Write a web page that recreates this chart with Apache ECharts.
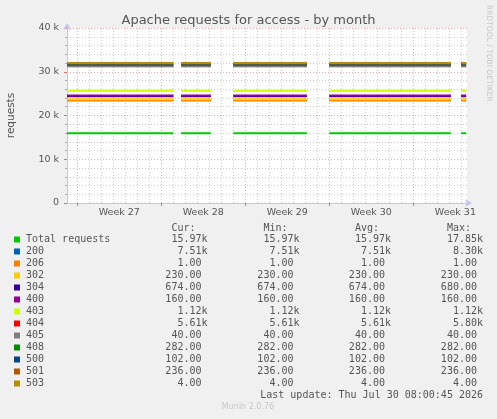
<!DOCTYPE html>
<html>
<head>
<meta charset="utf-8">
<title>Apache requests for access - by month</title>
<script src="https://cdn.jsdelivr.net/npm/echarts@6/dist/echarts.min.js"></script>
<style>
  html, body { margin: 0; padding: 0; background: #f0f0f0; }
  #chart { width: 497px; height: 419px; }
</style>
</head>
<body>
<div id="chart"></div>
<script>
// x is measured in days from Monday 00:00 of week 27
const xMin = -0.86;
const xMax = 32.47;
const segments = [[-0.86, 8.0], [8.64, 11.12], [13.0, 19.12], [21.0, 31.12], [31.98, 32.4]];
const weekStarts = [0, 7, 14, 21, 28];
const weekLabels = ['Week 27', 'Week 28', 'Week 29', 'Week 30', 'Week 31'];

const seriesNames = ['Total requests', '200', '206', '302', '304', '400', '403', '404', '405', '408', '500', '501', '503'];
const seriesValues = [15970, 7510, 1, 230, 674, 160, 1120, 5610, 40, 282, 102, 236, 4];
const seriesColors = ['#00cc00', '#0066b3', '#ff8000', '#ffcc00', '#330099', '#990099', '#ccff00', '#ff0000', '#808080', '#008f00', '#00487d', '#b35a00', '#b38f00'];

const curValues = ['15.97k', '7.51k', '1.00', '230.00', '674.00', '160.00', '1.12k', '5.61k', '40.00', '282.00', '102.00', '236.00', '4.00'];
const minValues = ['15.97k', '7.51k', '1.00', '230.00', '674.00', '160.00', '1.12k', '5.61k', '40.00', '282.00', '102.00', '236.00', '4.00'];
const avgValues = ['15.97k', '7.51k', '1.00', '230.00', '674.00', '160.00', '1.12k', '5.61k', '40.00', '282.00', '102.00', '236.00', '4.00'];
const maxValues = ['17.85k', '8.30k', '1.00', '230.00', '680.00', '160.00', '1.12k', '5.80k', '40.00', '282.00', '102.00', '236.00', '4.00'];

const statHeaders = ['Cur:', 'Min:', 'Avg:', 'Max:'];
const lastUpdate = 'Last update: Thu Jul 30 08:00:45 2026';

const weekMids = weekStarts.map(w => w + 3.5);
const dayTicks = [];
for (let d = 0; d <= 32; d++) {
  if (d % 7 !== 0) dayTicks.push(d);
}

// the status codes are stacked on top of the total line (rrd LINESTACK)
const stacked = [];
seriesValues.reduce((acc, v, i) => {
  stacked[i] = acc + v;
  return stacked[i];
}, 0);

// one line per series, broken where there is no data
function lineData(value) {
  const out = [];
  segments.forEach((seg, i) => {
    out.push([seg[0], value], [seg[1], value]);
    if (i < segments.length - 1) {
      out.push([(seg[1] + segments[i + 1][0]) / 2, null]);
    }
  });
  return out;
}

const chart = echarts.init(document.getElementById('chart'), null, { renderer: 'canvas' });

const textColor = '#555';
const axisBlue = '#c4c4f2';
const minorGrid = { color: 'rgba(160,160,160,0.5)', type: [1, 2], width: 1 };
const majorGrid = { color: 'rgba(230,120,120,0.6)', type: [1, 2], width: 1 };

const mono = 'DejaVu Sans Mono';
const graphics = [];
const rowTop = 239.5;
const rowStep = 12;
const colRight = [207.5, 299.5, 391, 483];
const columns = [curValues, minValues, avgValues, maxValues];

statHeaders.forEach((h, c) => {
  graphics.push({
    type: 'text', x: colRight[c] - 36.1, y: rowTop - rowStep + 0.5,
    style: { text: h, font: '10px "' + mono + '"', fill: textColor, verticalAlign: 'middle' }
  });
});

seriesNames.forEach((name, i) => {
  const y = rowTop + i * rowStep;
  graphics.push({
    type: 'rect', shape: { x: 14, y: y - 3, width: 6, height: 6 },
    style: { fill: seriesColors[i] }
  });
  graphics.push({
    type: 'text', x: 26, y: y,
    style: { text: name, font: '10px "' + mono + '"', fill: textColor, verticalAlign: 'middle' }
  });
  columns.forEach((col, c) => {
    const s = col[i];
    graphics.push({
      type: 'text', x: colRight[c], y: y,
      style: { text: s.endsWith('k') ? s : s + ' ', font: '10px "' + mono + '"', fill: textColor, align: 'right', verticalAlign: 'middle' }
    });
  });
});

graphics.push({
  type: 'text', x: 483, y: rowTop + seriesNames.length * rowStep,
  style: { text: lastUpdate, font: '10px "' + mono + '"', fill: textColor, align: 'right', verticalAlign: 'middle' }
});
graphics.push({
  type: 'text', x: 248, y: 407,
  style: { text: 'Munin 2.0.76', font: '8px "DejaVu Sans"', fill: '#c8c8c8', align: 'center', verticalAlign: 'middle' }
});
graphics.push({
  type: 'text', x: 489, y: 5, rotation: -Math.PI / 2,
  style: { text: 'RRDTOOL / TOBI OETIKER', font: '7.5px "DejaVu Sans"', fill: '#c8c8c8', align: 'left', verticalAlign: 'middle' }
});

const series = seriesNames.map((name, i) => ({
  type: 'line',
  name: name,
  xAxisIndex: 0,
  data: lineData(stacked[i]),
  showSymbol: false,
  connectNulls: false,
  lineStyle: { color: seriesColors[i], width: 2, cap: 'butt' },
  itemStyle: { color: seriesColors[i] },
  z: 3 + i
}));

chart.setOption({
  animation: false,
  backgroundColor: '#f0f0f0',
  textStyle: { fontFamily: 'DejaVu Sans' },
  title: {
    text: 'Apache requests for access - by month',
    left: 'center',
    top: 9,
    textStyle: { fontSize: 13, fontWeight: 'normal', color: textColor, fontFamily: 'DejaVu Sans' }
  },
  grid: {
    show: true,
    left: 67,
    top: 28,
    width: 400,
    height: 175,
    backgroundColor: '#ffffff',
    borderWidth: 0,
    containLabel: false,
    outerBoundsMode: 'none'
  },
  xAxis: [
    {
      type: 'value',
      position: 'bottom',
      min: xMin,
      max: xMax,
      axisLine: {
        show: true,
        onZero: false,
        lineStyle: { color: axisBlue, width: 1 },
        symbol: ['none', 'arrow'],
        symbolSize: [6, 7],
        symbolOffset: [0, 5]
      },
      axisTick: { show: true, customValues: weekStarts, length: 3, lineStyle: { color: '#e07070' } },
      axisLabel: {
        customValues: weekMids,
        margin: 5,
        fontSize: 9.5,
        color: textColor,
        fontFamily: 'DejaVu Sans',
        formatter: v => weekLabels[weekMids.indexOf(v)] || ''
      },
      splitLine: { show: true, lineStyle: majorGrid }
    },
    {
      type: 'value',
      position: 'top',
      min: xMin,
      max: xMax,
      axisLine: { show: false, onZero: false },
      axisTick: { show: false, customValues: dayTicks },
      axisLabel: { show: false },
      splitLine: { show: true, lineStyle: minorGrid }
    }
  ],
  yAxis: {
    type: 'value',
    min: 0,
    max: 40000,
    interval: 10000,
    name: 'requests',
    nameLocation: 'middle',
    nameGap: 50,
    nameTextStyle: { fontSize: 10.5, color: textColor, fontFamily: 'DejaVu Sans' },
    axisLine: {
      show: true,
      onZero: false,
      lineStyle: { color: axisBlue, width: 1 },
      symbol: ['none', 'arrow'],
      symbolSize: [6, 7],
      symbolOffset: [0, 5]
    },
    axisTick: { show: true, length: 3, lineStyle: { color: '#e07070' } },
    minorTick: { show: true, splitNumber: 5, length: 2, lineStyle: { color: '#aaaaaa' } },
    axisLabel: {
      margin: 8,
      fontSize: 9.5,
      color: textColor,
      fontFamily: 'DejaVu Sans',
      formatter: v => (v === 0 ? '0' : v / 1000 + ' k')
    },
    splitLine: { show: true, lineStyle: majorGrid },
    minorSplitLine: { show: true, lineStyle: minorGrid }
  },
  graphic: graphics,
  series: series
});
</script>
</body>
</html>
